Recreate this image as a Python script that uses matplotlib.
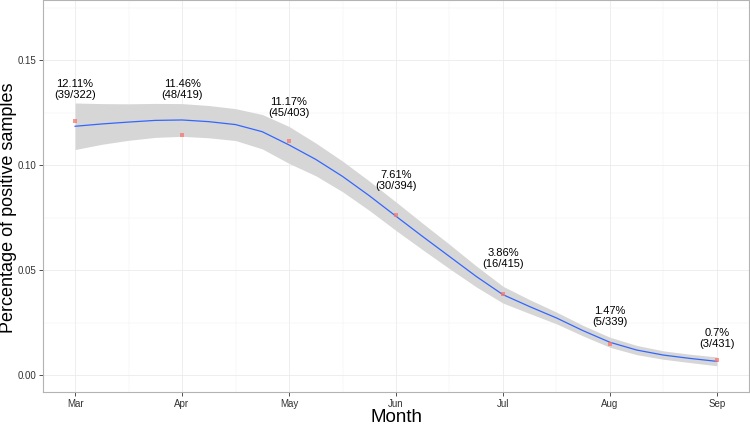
import matplotlib
matplotlib.use("Agg")
import matplotlib.pyplot as plt

plt.rcParams['font.family'] = ['Liberation Sans', 'DejaVu Sans']

# data
months = ["Mar", "Apr", "May", "Jun", "Jul", "Aug", "Sep"]
positives = [39, 48, 45, 30, 16, 5, 3]
totals = [322, 419, 403, 394, 415, 339, 431]
rate = [0.1211, 0.1146, 0.1117, 0.0761, 0.0386, 0.0147, 0.0070]
pct_text = ["12.11%", "11.46%", "11.17%", "7.61%", "3.86%", "1.47%", "0.7%"]
label_y = [0.1360, 0.1360, 0.1274, 0.0929, 0.0557, 0.0279, 0.0174]

# smoothed fit and its band, every quarter month
smooth_x = [0, 0.25, 0.5, 0.75, 1, 1.25, 1.5, 1.75, 2, 2.25, 2.5, 2.75, 3,
            3.25, 3.5, 3.75, 4, 4.25, 4.5, 4.75, 5, 5.25, 5.5, 5.75, 6]
smooth_fit = [0.1186, 0.1197, 0.1206, 0.1214, 0.1216, 0.1208, 0.1194, 0.1160,
              0.1097, 0.1028, 0.0947, 0.0855, 0.0757, 0.0660, 0.0565, 0.0470,
              0.0383, 0.0326, 0.0272, 0.0211, 0.0156, 0.0119, 0.0095, 0.0079,
              0.0065]
smooth_hi = [0.1297, 0.1294, 0.1293, 0.1295, 0.1294, 0.1285, 0.1270, 0.1242,
             0.1185, 0.1106, 0.1020, 0.0925, 0.0825, 0.0723, 0.0623, 0.0520,
             0.0423, 0.0359, 0.0300, 0.0236, 0.0180, 0.0141, 0.0115, 0.0099,
             0.0086]
smooth_lo = [0.1075, 0.1100, 0.1119, 0.1133, 0.1138, 0.1131, 0.1118, 0.1078,
             0.1009, 0.0950, 0.0874, 0.0785, 0.0689, 0.0597, 0.0507, 0.0420,
             0.0343, 0.0293, 0.0244, 0.0186, 0.0132, 0.0097, 0.0075, 0.0059,
             0.0044]

fig = plt.figure(figsize=(7.5, 4.3), dpi=100)
ax = fig.add_axes([0.0573, 0.0884, 0.9414, 0.9106])

x = list(range(len(months)))

ax.fill_between(smooth_x, smooth_lo, smooth_hi, color="#d6d6d6", lw=0, zorder=2)
ax.plot(smooth_x, smooth_fit, color="#3366FF", lw=0.9, zorder=3,
        solid_joinstyle="round")
ax.scatter(x, rate, marker="s", s=8, color="#F8766D", alpha=0.75, lw=0, zorder=4)

for i in x:
    ax.text(i, label_y[i], f"{pct_text[i]}\n({positives[i]}/{totals[i]})",
            ha="center", va="center", fontsize=8, color="black",
            linespacing=1.1, zorder=5)

ax.set_xlim(-0.3, 6.3)
ax.set_ylim(-0.0081, 0.1786)
ax.set_xticks(x)
ax.set_xticklabels(months)
ax.set_xticks([i + 0.5 for i in x[:-1]], minor=True)
ax.set_yticks([0.00, 0.05, 0.10, 0.15])
ax.set_yticklabels(["0.00", "0.05", "0.10", "0.15"])
ax.set_yticks([0.025, 0.075, 0.125, 0.175], minor=True)

ax.grid(which="major", color="#ebebeb", lw=0.6, zorder=0)
ax.grid(which="minor", color="#f2f2f2", lw=0.35, zorder=0)
ax.set_axisbelow(True)

ax.tick_params(which="major", length=3, width=0.6, color="#333333",
               labelsize=7, labelcolor="#333333", pad=2)
ax.tick_params(which="minor", length=0)
for s in ax.spines.values():
    s.set_color("#b3b3b3")
    s.set_linewidth(0.8)

ax.set_xlabel("Month", fontsize=13.5, labelpad=0)
ax.set_ylabel("Percentage of positive samples", fontsize=13)
ax.yaxis.set_label_coords(-0.037, 0.47)

fig.savefig("out.png", dpi=100)
